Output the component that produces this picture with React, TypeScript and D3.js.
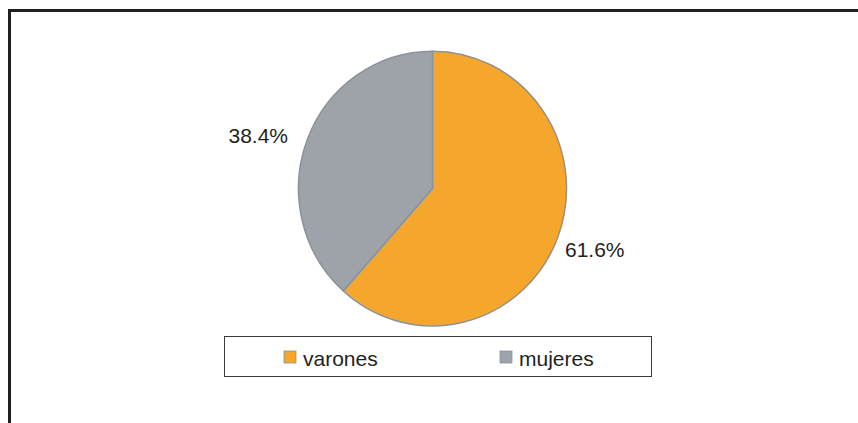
import React from "react";
import * as d3 from "d3";

const categories = ["varones", "mujeres"];
const values = [61.6, 38.4];
const labels = ["61.6%", "38.4%"];
const colors = ["#F5A72D", "#9EA3AA"];

export default function App() {
  const W = 858, H = 423;
  const cx = 432.5, cy = 188.5, r = 134, sy = 1.025;
  const pie = d3.pie<number>().sort(null).value((d) => d)(values);
  const arc = d3.arc<d3.PieArcDatum<number>>().innerRadius(0).outerRadius(r);
  const font = "'Liberation Sans', Arial, sans-serif";
  const labelPos = [
    { x: 565, y: 257, anchor: "start" },
    { x: 288, y: 143, anchor: "end" },
  ];
  const legendX = d3.scaleOrdinal<string, number>().domain(categories).range([284, 500]);
  return (
    <svg width={W} height={H} style={{ position: "absolute", left: 0, top: 0 }}>
      <rect x={0} y={0} width={W} height={H} fill="#fff" />
      <line x1={8} y1={10.5} x2={W} y2={10.5} stroke="#231f20" strokeWidth={3} />
      <line x1={9.5} y1={9} x2={9.5} y2={H} stroke="#231f20" strokeWidth={3} />
      <g transform={`translate(${cx},${cy}) scale(1,${sy})`}>
        {pie.map((p, i) => (
          <path key={i} d={arc(p) as string} fill={colors[i]} stroke="#8C929A" strokeWidth={1.5} />
        ))}
      </g>
      {pie.map((p, i) => (
        <text key={i} x={labelPos[i].x} y={labelPos[i].y} textAnchor={labelPos[i].anchor as any}
          fontFamily={font} fontSize={21} fill="#231f20">{labels[i]}</text>
      ))}
      <rect x={224.5} y={336.5} width={427} height={40} fill="#fff" stroke="#3a3a3a" strokeWidth={1} />
      {categories.map((c, i) => (
        <g key={c}>
          <rect x={legendX(c)} y={351} width={12} height={12} fill={colors[i]} stroke="#8C929A" strokeWidth={0.8} />
          <text x={legendX(c) + 19} y={366} fontFamily={font} fontSize={21} fill="#231f20">{c}</text>
        </g>
      ))}
    </svg>
  );
}
